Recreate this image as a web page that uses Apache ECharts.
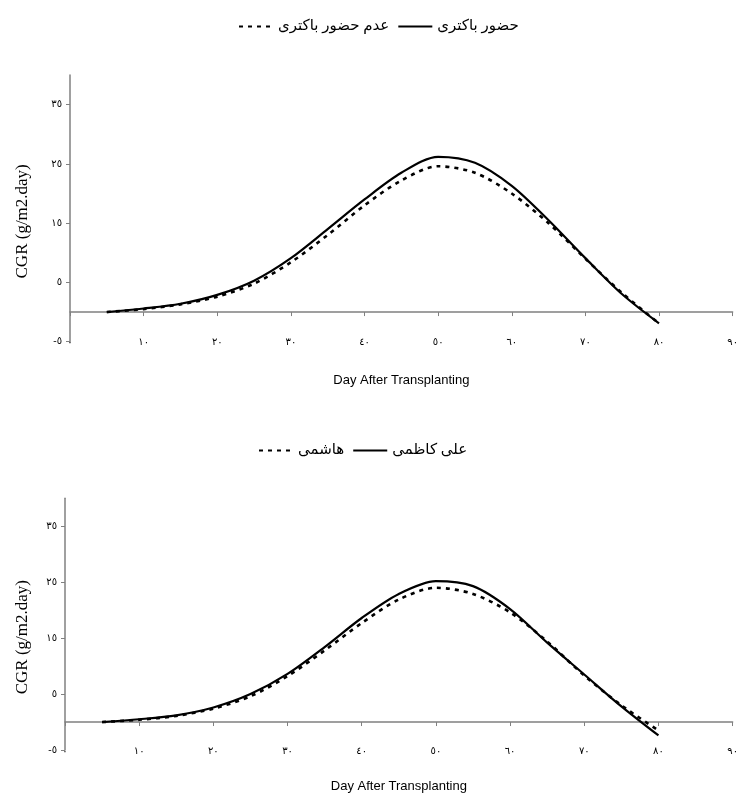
<!DOCTYPE html>
<html>
<head>
<meta charset="utf-8">
<script src="https://cdn.jsdelivr.net/npm/echarts@6/dist/echarts.min.js"></script>
<style>
  html, body { margin: 0; padding: 0; background: #fff; }
  #chart { width: 741px; height: 794px; }
</style>
</head>
<body>
<div id="chart"></div>
<script>
// Days after transplanting at which CGR was sampled
const days = [5, 10, 15, 20, 25, 30, 35, 40, 45, 50, 55, 60, 65, 70, 75, 80];

// Upper panel: with / without bacteria
const bacteriaPresent = [0.0, 0.6, 1.4, 2.9, 5.3, 9.1, 14.0, 19.0, 23.5, 26.2, 25.2, 21.3, 15.5, 9.1, 3.0, -1.9];
const bacteriaAbsent  = [0.0, 0.5, 1.3, 2.6, 4.8, 8.4, 13.0, 18.0, 22.2, 24.6, 23.5, 20.0, 15.0, 9.0, 3.2, -1.9];

// Lower panel: two cultivars
const aliKazemi = [0.0, 0.5, 1.2, 2.6, 5.0, 8.6, 13.4, 18.6, 22.9, 25.2, 24.3, 20.2, 14.2, 8.5, 2.8, -2.4];
const hashemi   = [0.0, 0.4, 1.1, 2.4, 4.6, 8.2, 12.8, 17.7, 21.9, 24.0, 22.9, 19.6, 14.4, 8.3, 3.0, -1.5];

// Axis tick positions
const xTicks = [0, 10, 20, 30, 40, 50, 60, 70, 80, 90];
const yTicks = [-5, 5, 15, 25, 35];

const nameTop = { present: 'حضور باکتری', absent: 'عدم حضور باکتری' };
const nameBottom = { kazemi: 'علی کاظمی', hashemi: 'هاشمی' };

const AR_DIGITS = '٠١٢٣٤٥٦٧٨٩';
function arabicNum(v) {
  const s = String(Math.abs(v)).replace(/\d/g, d => AR_DIGITS[+d]);
  return v < 0 ? '-' + s : s;
}

function pairs(vals) { return days.map((d, i) => [d, vals[i]]); }

const AXIS_COLOR = '#808080';
const LABEL_FONT = 'Liberation Serif, DejaVu Sans, serif';
const ARABIC_FONT = 'Liberation Serif, DejaVu Sans, serif';

function xAxes(gridIndex, nameGap) {
  return [
    { // zero line carrying the tick marks
      type: 'value', gridIndex, min: 0, max: 90, position: 'bottom',
      axisLine: { onZero: true, lineStyle: { color: AXIS_COLOR, width: 1.5 } },
      axisTick: { show: true, length: 4, lineStyle: { color: AXIS_COLOR }, customValues: xTicks },
      axisLabel: { show: false },
      splitLine: { show: false }
    },
    { // labels along the bottom of the plot
      type: 'value', gridIndex, min: 0, max: 90, position: 'bottom',
      axisLine: { show: false, onZero: false },
      axisTick: { show: false },
      splitLine: { show: false },
      axisLabel: {
        show: true, customValues: xTicks, formatter: arabicNum,
        verticalAlign: 'middle', margin: 1,
        fontSize: 10, color: '#000', fontFamily: LABEL_FONT
      },
      name: 'Day After Transplanting', nameLocation: 'middle', nameGap: nameGap,
      nameTextStyle: { fontSize: 13, color: '#000', fontFamily: 'Liberation Sans Narrow, Liberation Sans, Arial, sans-serif' }
    }
  ];
}

function yAxis(gridIndex, nameGap, pad) {
  return {
    type: 'value', gridIndex, min: -5, max: 40,
    axisLine: { show: true, onZero: false, lineStyle: { color: AXIS_COLOR, width: 1.5 } },
    axisTick: { show: true, length: 4, lineStyle: { color: AXIS_COLOR }, customValues: yTicks },
    axisLabel: { customValues: yTicks, formatter: arabicNum, fontSize: 10, color: '#000', fontFamily: LABEL_FONT, margin: 8 },
    splitLine: { show: false },
    name: 'CGR (g/m2.day)', nameLocation: 'middle', nameGap: nameGap, nameRotate: 90,
    nameTextStyle: { fontSize: 17, color: '#000', fontFamily: 'Liberation Serif, Times New Roman, serif', padding: pad }
  };
}

function lineSeries(name, xAxisIndex, yAxisIndex, vals, dashed) {
  return {
    type: 'line', name, xAxisIndex, yAxisIndex,
    data: pairs(vals), smooth: 0.3, symbol: 'none', z: dashed ? 3 : 2,
    color: '#000',
    lineStyle: dashed
      ? { color: '#000', width: 2.6, type: [4, 5] }
      : { color: '#000', width: 2.2, type: 'solid' }
  };
}

const legendBase = {
  itemWidth: 34, itemHeight: 10, itemGap: 8,
  itemStyle: { opacity: 0 },
  lineStyle: { inactiveColor: '#000' },
  textStyle: { fontSize: 15, color: '#000', fontFamily: ARABIC_FONT }
};

const chart = echarts.init(document.getElementById('chart'), null, { renderer: 'canvas' });
chart.setOption({
  backgroundColor: '#fff',
  animation: false,
  legend: [
    Object.assign({ left: 233, top: 14, data: [nameTop.absent, nameTop.present] }, legendBase),
    Object.assign({ left: 253, top: 438, data: [nameBottom.hashemi, nameBottom.kazemi] }, legendBase)
  ],
  grid: [
    { left: 70, right: 5.3, top: 75, bottom: 452.3 },
    { left: 65, right: -1, top: 498.3, bottom: 42.3 }
  ],
  xAxis: [...xAxes(0, 32), ...xAxes(1, 30)],
  yAxis: [yAxis(0, 39, [0, 26, 0, 0]), yAxis(1, 34, [0, 26, 0, 0])],
  series: [
    lineSeries(nameTop.present, 0, 0, bacteriaPresent, false),
    lineSeries(nameTop.absent, 0, 0, bacteriaAbsent, true),
    lineSeries(nameBottom.kazemi, 2, 1, aliKazemi, false),
    lineSeries(nameBottom.hashemi, 2, 1, hashemi, true)
  ]
});
</script>
</body>
</html>
